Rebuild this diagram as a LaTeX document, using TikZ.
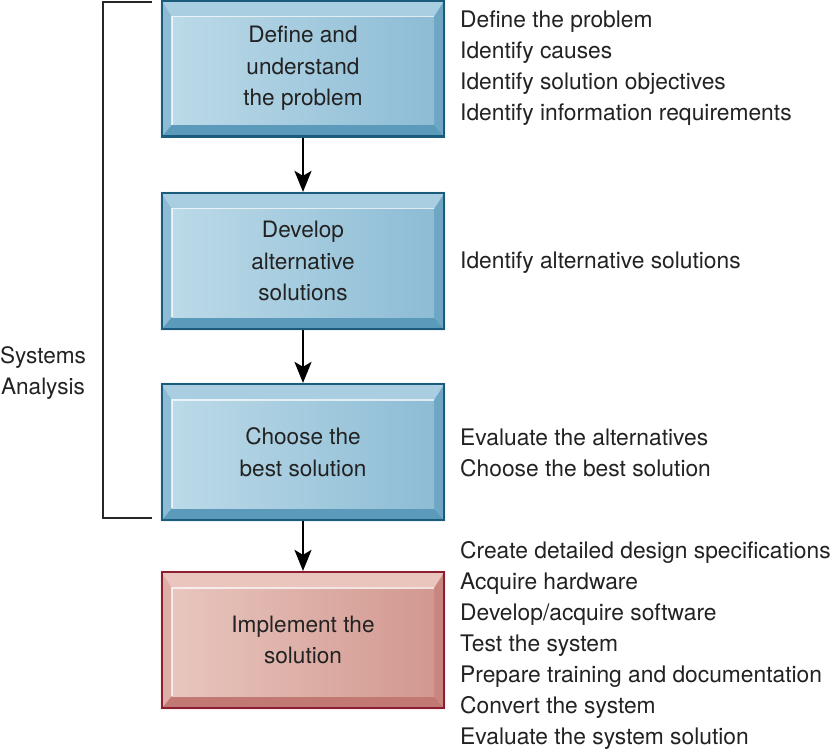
\documentclass[tikz,border=0pt]{standalone}
\usepackage{fontspec}
\setmainfont{TeX Gyre Heros}
\usetikzlibrary{arrows.meta,backgrounds,calc}
\definecolor{txt}{HTML}{222222}
\definecolor{bBorder}{HTML}{1B5C7C}
\definecolor{bTop}{HTML}{A9CEE1}
\definecolor{bLeft}{HTML}{8DBBD3}
\definecolor{bRight}{HTML}{6EA6C4}
\definecolor{bBot}{HTML}{5B9ABB}
\definecolor{bFaceL}{HTML}{BCDAE8}
\definecolor{bFaceR}{HTML}{8DBCD5}
\definecolor{rBorder}{HTML}{8B1E30}
\definecolor{rTop}{HTML}{E9C5BD}
\definecolor{rLeft}{HTML}{DDAEA6}
\definecolor{rRight}{HTML}{C98680}
\definecolor{rBot}{HTML}{C27873}
\definecolor{rFaceL}{HTML}{E8C6BE}
\definecolor{rFaceR}{HTML}{D29890}
\tikzset{
  box/.style={draw=#1, line width=2.2pt, minimum width=282pt, minimum height=136pt,
    align=center, text=txt, font=\fontsize{22.6}{31.5}\selectfont, inner sep=0pt},
  flow/.style={line width=2.6pt, -{Stealth[length=21pt,width=17pt,inset=5pt]}},
  list/.style={anchor=west, align=left, text=txt, font=\fontsize{22.8}{31.1}\selectfont, inner sep=0pt},
  side/.style={align=center, text=txt, font=\fontsize{22.6}{31.2}\selectfont, inner sep=0pt},
  bracket/.style={line width=2.2pt, draw=black!85}
}
% #1 node, #2 top, #3 left, #4 right, #5 bottom, #6 face left, #7 face right
\newcommand\bevelbox[7]{%
  \begin{scope}[on background layer]
    \coordinate (NW) at (#1.north west);
    \coordinate (NE) at (#1.north east);
    \coordinate (SW) at (#1.south west);
    \coordinate (SE) at (#1.south east);
    \coordinate (iNW) at ($(NW)+(11pt,-17pt)$);
    \coordinate (iNE) at ($(NE)+(-11pt,-17pt)$);
    \coordinate (iSW) at ($(SW)+(11pt,13pt)$);
    \coordinate (iSE) at ($(SE)+(-11pt,13pt)$);
    \fill[#2] (NW) -- (NE) -- (iNE) -- (iNW) -- cycle;
    \fill[#3] (NW) -- (iNW) -- (iSW) -- (SW) -- cycle;
    \fill[#4] (NE) -- (SE) -- (iSE) -- (iNE) -- cycle;
    \fill[#5] (SW) -- (iSW) -- (iSE) -- (SE) -- cycle;
    \shade[left color=#6, right color=#7] (iNW) rectangle (iSE);
    \draw[white, opacity=0.7, line width=1.2pt] (iSW) -- (iNW) -- (iNE);
  \end{scope}%
}
\begin{document}
\begin{tikzpicture}[x=1pt, y=-1pt]
\useasboundingbox (0,0) rectangle (832,751);

\node[box=bBorder] (b1) at (303,68.5) {Define and\\understand\\the problem};
\node[box=bBorder] (b2) at (303,261) {Develop\\alternative\\solutions};
\node[box=bBorder] (b3) at (303,452) {Choose the\\best solution};
\node[box=rBorder] (b4) at (303,640) {Implement the\\solution};

\bevelbox{b1}{bTop}{bLeft}{bRight}{bBot}{bFaceL}{bFaceR}
\bevelbox{b2}{bTop}{bLeft}{bRight}{bBot}{bFaceL}{bFaceR}
\bevelbox{b3}{bTop}{bLeft}{bRight}{bBot}{bFaceL}{bFaceR}
\bevelbox{b4}{rTop}{rLeft}{rRight}{rBot}{rFaceL}{rFaceR}

\draw[flow] (b1.south) -- (b2.north);
\draw[flow] (b2.south) -- (b3.north);
\draw[flow] (b3.south) -- (b4.north);

\node[list] (l1) at (460,68) {Define the problem\\Identify causes\\Identify solution objectives\\Identify information requirements};
\node[list] (l2) at (460,263) {Identify alternative solutions};
\node[list] (l3) at (460,453) {Evaluate the alternatives\\Choose the best solution};
\node[list] (l4) at (460,645.5) {Create detailed design specifications\\Acquire hardware\\Develop/acquire software\\Test the system\\Prepare training and documentation\\Convert the system\\Evaluate the system solution};

\node[side] (sa) at (43,373) {Systems\\Analysis};

\coordinate (bt) at (152,2);
\coordinate (bb) at (152,518);
\draw[bracket] (bt) -- (103,2) -- (103,518) -- (bb);
\end{tikzpicture}
\end{document}
